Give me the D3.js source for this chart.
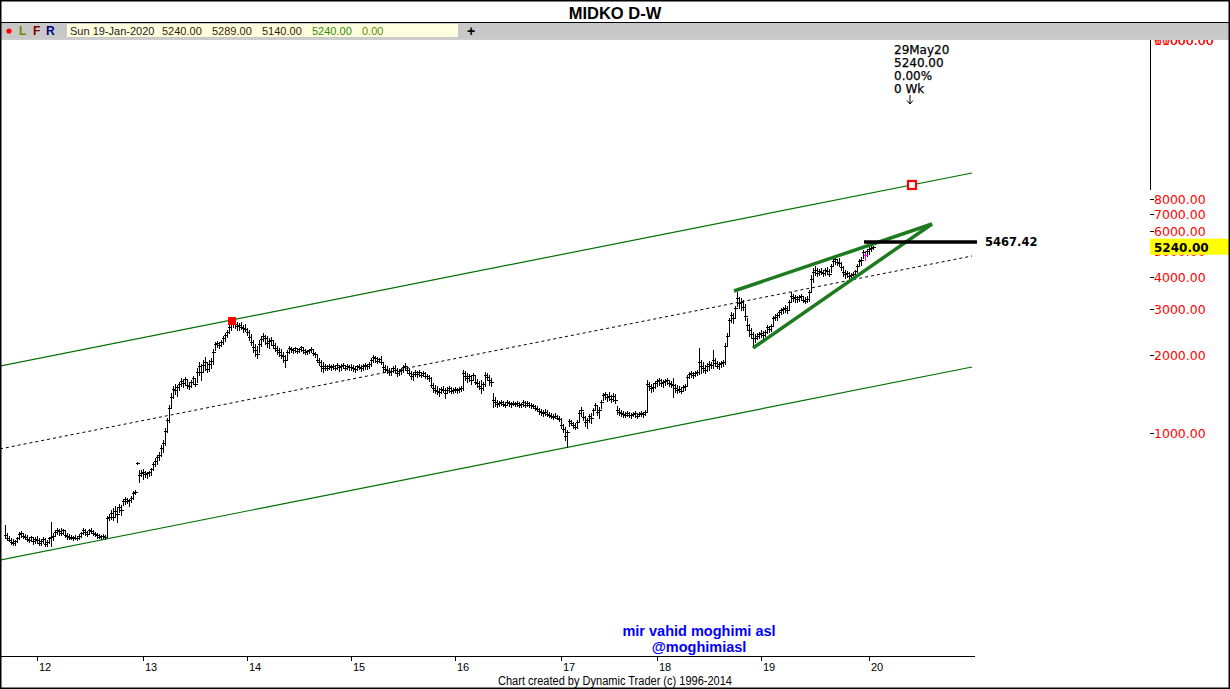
<!DOCTYPE html>
<html>
<head>
<meta charset="utf-8">
<script src="https://cdn.jsdelivr.net/npm/d3@7"></script>
<style>
  body { margin: 0; background: #fff; }
  svg { display: block; }
</style>
</head>
<body>
<svg id="chart" width="1230" height="689"></svg>
<script>
// weekly bars, one array per calendar year, each bar = [high, low, close]
const bars2011 = [[441,393,404],[411,386,393],[400,383,386],[393,373,379],[390,369,376],[386,369,383],[397,379,393],[415,390,408],[418,397,411],[411,393,400],[408,390,397],[404,383,390],[397,379,386],[400,383,397],[393,373,383],[397,376,390]];
const bars2012 = [[400,376,386],[393,369,376],[390,369,383],[397,376,390],[393,366,373],[386,366,379],[397,376,393],[453,366,397],[411,386,400],[422,400,415],
  [429,408,422],[425,404,418],[429,404,411],[425,408,422],[418,397,404],[411,390,400],[408,390,397],[404,390,393],[400,386,397],[404,390,393],
  [400,386,393],[408,390,400],[415,397,411],[429,408,422],[425,404,415],[418,400,408],[425,408,422],[429,411,418],[422,404,411],[415,400,408],
  [411,393,404],[408,393,397],[404,390,400],[408,393,400],[404,390,397],[478,397,469],[486,461,473],[504,465,491],[513,461,473],[522,478,500],
  [518,453,486],[532,495,518],[527,482,504],[556,527,546],[566,532,556],[561,537,546],[556,522,551],[571,541,561],[597,556,587],[602,581,592],
  [772,760,766],[720,646,690],[720,683,701]];
const bars2013 = [[727,664,707],[714,678,695],[707,671,701],[714,683,707],[732,689,727],[773,720,759],[800,746,779],[822,759,808],[844,786,822],[899,815,874],
  [940,844,915],[1045,899,1018],[1143,1009,1122],[1284,1103,1249],[1428,1249,1378],[1520,1365,1479],[1547,1415,1466],[1533,1390,1506],[1575,1466,1547],[1630,1520,1588],
  [1616,1506,1561],[1644,1533,1616],[1616,1492,1533],[1575,1479,1520],[1602,1506,1575],[1658,1547,1630],[1630,1520,1547],[1782,1575,1721],[1882,1675,1815],[1848,1602,1721],
  [1914,1721,1831],[1966,1751,1882],[1882,1721,1766],[1914,1736,1848],[1948,1782,1898],[2110,1848,2056],[2245,2092,2206],[2265,2148,2225],[2245,2128,2187],[2286,2167,2245],
  [2368,2206,2326],[2434,2265,2390],[2499,2347,2456],[2613,2434,2567],[2755,2499,2685],[2780,2567,2731],[2731,2544,2636],[2685,2499,2590],[2660,2499,2613],[2685,2522,2567],
  [2613,2456,2544],[2636,2478,2522]];
const bars2014 = [[2544,2390,2456],[2499,2286,2347],[2412,2187,2245],[2286,2056,2148],[2206,1983,2092],[2167,1948,2019],[2286,2056,2206],[2368,2167,2306],[2434,2265,2368],[2390,2206,2326],
  [2368,2148,2225],[2326,2128,2265],[2347,2187,2286],[2286,2128,2187],[2225,2074,2128],[2167,2019,2092],[2128,1983,2056],[2110,1948,2001],[2056,1882,1983],[2001,1798,1914],
  [2092,1914,2056],[2167,2037,2128],[2148,2056,2110],[2128,2037,2092],[2148,2056,2128],[2110,2037,2074],[2128,2056,2110],[2167,2074,2148],[2148,2037,2092],[2110,2019,2056],
  [2092,2019,2074],[2110,2037,2092],[2148,2056,2110],[2110,2001,2037],[2056,1966,2019],[2019,1882,1914],[1948,1831,1882],[1914,1736,1815],[1882,1721,1782],[1848,1751,1815],
  [1831,1751,1782],[1848,1766,1815],[1831,1751,1798],[1848,1766,1815],[1831,1751,1782],[1865,1766,1831],[1831,1736,1798],[1848,1751,1815],[1865,1782,1831],[1831,1751,1782],
  [1848,1766,1815],[1831,1751,1798]];
const bars2015 = [[1848,1751,1798],[1831,1736,1782],[1815,1721,1766],[1831,1751,1815],[1848,1766,1798],[1831,1736,1782],[1848,1751,1815],[1865,1766,1831],[1848,1766,1815],[1882,1782,1848],
  [1948,1815,1914],[2001,1882,1966],[1983,1882,1948],[1966,1865,1898],[1948,1882,1931],[1983,1848,1882],[1882,1721,1798],[1831,1721,1766],[1815,1705,1751],[1782,1675,1721],
  [1782,1675,1736],[1815,1721,1782],[1831,1705,1751],[1782,1660,1705],[1766,1675,1736],[1782,1690,1751],[1831,1721,1798],[1865,1751,1815],[1815,1705,1751],[1782,1675,1705],
  [1736,1616,1660],[1721,1602,1690],[1751,1660,1721],[1736,1644,1690],[1751,1660,1721],[1721,1644,1675],[1736,1660,1705],[1721,1630,1660],[1690,1616,1660],[1675,1588,1630],
  [1644,1506,1533],[1561,1441,1492],[1533,1428,1466],[1520,1415,1453],[1492,1390,1441],[1506,1428,1479],[1520,1441,1466],[1492,1365,1428],[1506,1428,1466],[1520,1441,1492],
  [1506,1428,1453],[1492,1428,1466]];
const bars2016 = [[1506,1441,1479],[1492,1428,1466],[1506,1441,1479],[1520,1453,1492],[1751,1466,1705],[1736,1602,1660],[1705,1575,1630],[1690,1588,1660],[1675,1547,1602],[1705,1602,1675],
  [1660,1547,1575],[1616,1506,1561],[1588,1479,1520],[1602,1428,1492],[1575,1466,1547],[1721,1520,1675],[1705,1602,1644],[1675,1533,1602],[1630,1520,1575],[1428,1260,1341],
  [1378,1272,1319],[1341,1260,1296],[1330,1272,1307],[1341,1284,1319],[1330,1272,1296],[1319,1260,1284],[1341,1284,1319],[1330,1272,1307],[1319,1260,1296],[1330,1284,1307],
  [1319,1272,1296],[1330,1272,1307],[1319,1260,1284],[1307,1260,1296],[1341,1272,1319],[1330,1260,1284],[1330,1272,1307],[1319,1260,1284],[1307,1249,1284],[1296,1249,1272],
  [1284,1227,1249],[1272,1217,1238],[1249,1185,1217],[1238,1174,1207],[1227,1164,1196],[1238,1174,1207],[1227,1164,1185],[1207,1153,1174],[1196,1143,1164],[1185,1133,1153],
  [1196,1143,1164],[1174,1133,1143],[1164,1113,1133]];
const bars2017 = [[1143,1045,1074],[1084,1009,1036],[1054,940,974],[1027,883,1009],[1133,1064,1113],[1122,1074,1093],[1103,1045,1074],[1093,1036,1054],[1122,1045,1103],[1227,1103,1196],
  [1260,1164,1227],[1207,1122,1153],[1164,1064,1103],[1143,1045,1122],[1185,1103,1164],[1196,1093,1143],[1249,1174,1227],[1307,1227,1284],[1284,1174,1207],[1260,1143,1227],
  [1341,1249,1319],[1428,1341,1403],[1441,1353,1415],[1415,1330,1378],[1441,1341,1390],[1403,1319,1353],[1428,1330,1390],[1415,1307,1341],[1272,1185,1227],[1249,1174,1207],
  [1227,1164,1196],[1217,1153,1185],[1207,1153,1174],[1217,1164,1196],[1207,1153,1174],[1196,1143,1174],[1207,1164,1185],[1217,1153,1196],[1196,1143,1164],[1207,1164,1185],
  [1217,1164,1196],[1207,1153,1185],[1227,1174,1207],[1602,1207,1547],[1575,1466,1520],[1547,1441,1492],[1561,1453,1506],[1588,1492,1561]];
const bars2018 = [[1616,1520,1588],[1630,1533,1602],[1616,1520,1561],[1602,1506,1575],[1616,1533,1588],[1630,1547,1602],[1602,1520,1561],[1588,1506,1547],[1630,1378,1533],[1547,1441,1492],
  [1533,1428,1466],[1520,1441,1479],[1506,1428,1453],[1533,1453,1506],[1547,1466,1520],[1675,1520,1644],[1721,1630,1690],[1736,1644,1705],[1721,1630,1675],[1736,1660,1705],
  [1751,1675,1721],[2128,1690,1882],[1914,1705,1815],[1882,1721,1782],[1831,1705,1751],[1865,1736,1815],[1898,1751,1848],[1882,1782,1831],[2092,1782,1914],[1948,1815,1865],
  [1898,1782,1815],[1882,1766,1848],[1898,1798,1865],[1914,1815,1882],[2225,1848,2167],[2434,2187,2368],[2780,2390,2731],[2931,2685,2857],[2906,2660,2780],[3093,2780,3037],
  [3502,3093,3321],[3350,3037,3178],[3321,2985,3207],[3263,2985,3065],[3149,2731,2831],[2780,2499,2613],[2636,2368,2499],[2544,2326,2412],[2456,2148,2326],[2412,2245,2326],
  [2434,2306,2368],[2456,2326,2412]];
const bars2019 = [[2499,2347,2434],[2478,2326,2390],[2499,2368,2456],[2613,2434,2567],[2590,2456,2522],[2636,2478,2590],[2831,2613,2780],[2881,2731,2806],[2906,2731,2857],[2985,2806,2931],
  [3037,2881,2985],[3065,2906,3011],[3121,2931,3037],[3093,2906,2985],[3263,2985,3207],[3502,3207,3380],[3441,3235,3321],[3409,3207,3350],[3380,3207,3292],[3409,3235,3350],
  [3441,3263,3380],[3380,3207,3263],[3350,3178,3235],[3380,3207,3292],[3566,3235,3502],[4068,3502,3927],[4330,3830,4179],[4407,4068,4259],[4330,4033,4143],[4294,4068,4219],
  [4330,4105,4179],[4259,4033,4143],[4330,4068,4259],[4368,4105,4219],[4294,4033,4105],[4489,4179,4407],[4742,4407,4614],[4787,4489,4698],[4698,4449,4572],[4742,4407,4531],
  [4572,4259,4368],[4407,4033,4179],[4259,3960,4105],[4219,3996,4143],[4179,3930,4033],[4143,3960,4068],[4179,3996,4105],[4259,4033,4219],[4489,4179,4407],[4698,4407,4614],
  [4787,4449,4656],[5089,4742,4999],[5043,4656,4867],[5133,4823,5043]];
const bars2020 = [[5225,4910,5133],[5272,5043,5179],[5289,5140,5240]];

const yearLabels = ['12', '13', '14', '15', '16', '17', '18', '19', '20'];
const yearBars = [bars2011, bars2012, bars2013, bars2014, bars2015, bars2016, bars2017, bars2018, bars2019, bars2020];
const priceTicks = [1000, 2000, 3000, 4000, 5000, 6000, 7000, 8000];

const lastClose = 5240;
const targetLevel = 5467.42;
const markedBar = 430; // highlighted bar (pink)

// trend lines: [bar index, price]
const upperChannel = [[-2.5, 1814], [483.5, 10090]];
const lowerChannel = [[-2.5, 323], [483.5, 1798]];
const midLine = [[-2.5, 868], [483.5, 4825]];
const wedgeTop = [[364.5, 3534], [463.5, 6412]];
const wedgeBottom = [[374, 2129], [463.5, 6412]];
const targetSpan = [429.5, 486];
const peakMark = [113.5, 2707];
const projMark = [453.5, 9069];
const projLines = ['29May20', '5240.00', '0.00%', '0 Wk'];
const projBar = 452.5;
const quote = ['Sun 19-Jan-2020', '5240.00', '5289.00', '5140.00', '5240.00', '0.00'];

const svg = d3.select('#chart');
const W = 1230, H = 689;

const x = d3.scaleLinear().domain([0, 434]).range([5, 873]);
const y = d3.scaleLog().domain([1000, 10000]).range([433, 174]);

// flatten bars with running index
const bars = [];
const yearStart = [];
yearBars.forEach(arr => {
    yearStart.push(bars.length);
    arr.forEach(b => bars.push({ i: bars.length, h: b[0], l: b[1], c: b[2] }));
});

// title and header strip
svg.append('text')
    .attr('x', 615).attr('y', 19)
    .attr('text-anchor', 'middle')
    .style('font', 'bold 16.5px "Liberation Sans", Arial, sans-serif')
    .text('MIDKO D-W');

svg.append('rect').attr('x', 0).attr('y', 22).attr('width', W).attr('height', 16).attr('fill', '#c8c8c8');
svg.append('line').attr('x1', 0).attr('x2', W).attr('y1', 22.5).attr('y2', 22.5).attr('stroke', '#000');
svg.append('line').attr('x1', 0).attr('x2', W).attr('y1', 39).attr('y2', 39).attr('stroke', '#9a9a9a');

svg.append('circle').attr('cx', 9).attr('cy', 31).attr('r', 2.6).attr('fill', '#ff0000');
const hdrFont = 'bold 12px "Liberation Sans", Arial, sans-serif';
[['L', 19, '#808000'], ['F', 33, '#800000'], ['R', 46, '#000080']].forEach(d => {
    svg.append('text').attr('x', d[1]).attr('y', 35).attr('fill', d[2]).style('font', hdrFont).text(d[0]);
});
svg.append('rect').attr('x', 67).attr('y', 24).attr('width', 391).attr('height', 13).attr('fill', '#ffffe0');
const quoteX = [70, 162, 212, 262, 312, 362];
const quoteCol = ['#1a1a1a', '#3a1a00', '#3a1a00', '#3a1a00', '#2e8b00', '#5a8a00'];
quote.forEach((t, k) => {
    svg.append('text').attr('x', quoteX[k]).attr('y', 35)
        .attr('fill', quoteCol[k])
        .style('font', '11px "Liberation Sans", Arial, sans-serif')
        .text(t);
});
svg.append('text').attr('x', 467).attr('y', 36).style('font', 'bold 14px "Liberation Sans", Arial, sans-serif').text('+');

// plot area clip
svg.append('defs').append('clipPath').attr('id', 'plot')
    .append('rect').attr('x', 1).attr('y', 40).attr('width', 1148).attr('height', 616);
const plot = svg.append('g').attr('clip-path', 'url(#plot)');

const seg = d3.line().x(d => x(d[0])).y(d => y(d[1]));

// channel lines
plot.append('path').attr('d', seg(upperChannel)).attr('stroke', '#007000').attr('stroke-width', 1.2).attr('fill', 'none');
plot.append('path').attr('d', seg(lowerChannel)).attr('stroke', '#007000').attr('stroke-width', 1.2).attr('fill', 'none');
plot.append('path').attr('d', seg(midLine)).attr('stroke', '#000').attr('stroke-width', 1)
    .attr('stroke-dasharray', '3,3').attr('fill', 'none');

// OHLC bars (high-low stem + close tick), 1px pixel-snapped
const barColor = d => d.i === markedBar ? '#ff00ff' : '#000';
const bx = d => Math.round(x(d.i)) + 0.5;
const barG = plot.append('g').attr('shape-rendering', 'crispEdges');
barG.selectAll('line.stem')
    .data(bars)
    .join('line')
    .attr('class', 'stem')
    .attr('x1', bx)
    .attr('x2', bx)
    .attr('y1', d => Math.round(y(d.h)))
    .attr('y2', d => Math.round(y(d.l)) + 1)
    .attr('stroke', barColor)
    .attr('stroke-width', 1);
barG.selectAll('line.close')
    .data(bars)
    .join('line')
    .attr('class', 'close')
    .attr('x1', d => bx(d) - 1.5)
    .attr('x2', d => bx(d) + 2)
    .attr('y1', d => Math.round(y(d.c)) + 0.5)
    .attr('y2', d => Math.round(y(d.c)) + 0.5)
    .attr('stroke', barColor)
    .attr('stroke-width', 1);

// wedge
plot.append('path').attr('d', seg(wedgeTop)).attr('stroke', '#1e7a1e').attr('stroke-width', 3.5).attr('fill', 'none');
plot.append('path').attr('d', seg(wedgeBottom)).attr('stroke', '#1e7a1e').attr('stroke-width', 3.5).attr('fill', 'none');

// target level
plot.append('line')
    .attr('x1', x(targetSpan[0])).attr('x2', x(targetSpan[1]))
    .attr('y1', y(targetLevel)).attr('y2', y(targetLevel))
    .attr('stroke', '#000').attr('stroke-width', 3.5);
svg.append('text')
    .attr('x', 985).attr('y', y(targetLevel) + 4.5)
    .style('font', 'bold 11.5px "DejaVu Sans", Verdana, sans-serif')
    .text(d3.format('.2f')(targetLevel));

// markers
plot.append('rect')
    .attr('x', x(peakMark[0]) - 4).attr('y', y(peakMark[1]) - 4)
    .attr('width', 8).attr('height', 8).attr('fill', '#ff0000');
plot.append('rect')
    .attr('x', x(projMark[0]) - 4).attr('y', y(projMark[1]) - 4)
    .attr('width', 8).attr('height', 8)
    .attr('fill', '#fff').attr('stroke', '#ff0000').attr('stroke-width', 2.2);

// projection note
const px = x(projBar);
projLines.forEach((t, k) => {
    svg.append('text')
        .attr('x', px - 16).attr('y', 54 + k * 13)
        .style('font', '12px "DejaVu Sans", Verdana, sans-serif')
        .style('stroke', '#000').style('stroke-width', 0.25)
        .text(t);
});
svg.append('path')
    .attr('d', `M${px},95V104M${px - 3},100.5L${px},104L${px + 3},100.5`)
    .attr('stroke', '#000').attr('fill', 'none').attr('stroke-width', 1);

// watermark
svg.append('text').attr('x', 699).attr('y', 636).attr('text-anchor', 'middle').attr('fill', '#0000ff')
    .style('font', 'bold 14.5px "Liberation Sans", Arial, sans-serif').text('mir vahid moghimi asl');
svg.append('text').attr('x', 699).attr('y', 652).attr('text-anchor', 'middle').attr('fill', '#0000ff')
    .style('font', 'bold 14.5px "Liberation Sans", Arial, sans-serif').text('@moghimiasl');

// price axis
svg.append('line').attr('x1', 1150.5).attr('x2', 1150.5).attr('y1', 40).attr('y2', 190).attr('stroke', '#000');
svg.append('defs').append('clipPath').attr('id', 'axisclip')
    .append('rect').attr('x', 1150).attr('y', 40).attr('width', 80).attr('height', 620);
const axisG = svg.append('g').attr('clip-path', 'url(#axisclip)');
['61000.00', '10000.00'].forEach(t => {
    axisG.append('text').attr('x', 1154).attr('y', 45).attr('fill', '#ff0000')
        .style('font', '12.5px "DejaVu Sans", Verdana, sans-serif').text(t);
});
priceTicks.forEach(p => {
    axisG.append('line').attr('x1', 1150).attr('x2', 1154).attr('y1', Math.round(y(p)) + 0.5).attr('y2', Math.round(y(p)) + 0.5).attr('stroke', '#000');
    axisG.append('text').attr('x', 1154).attr('y', y(p) + 4.5).attr('fill', '#ff0000')
        .style('font', '12.5px "DejaVu Sans", Verdana, sans-serif')
        .text(d3.format('.2f')(p));
});
axisG.append('rect').attr('x', 1150).attr('y', y(lastClose) - 8).attr('width', 80).attr('height', 16).attr('fill', '#ffff00');
axisG.append('text').attr('x', 1154).attr('y', y(lastClose) + 5).attr('fill', '#000')
    .style('font', 'bold 12px "DejaVu Sans", Verdana, sans-serif')
    .text(d3.format('.2f')(lastClose));

// time axis
svg.append('line').attr('x1', 0).attr('x2', 975).attr('y1', 656.5).attr('y2', 656.5).attr('stroke', '#000');
yearLabels.forEach((lab, k) => {
    const xi = Math.round(x(yearStart[k + 1])) + 0.5;
    svg.append('line').attr('x1', xi).attr('x2', xi).attr('y1', 656).attr('y2', 661).attr('stroke', '#000');
    svg.append('text').attr('x', xi + 1.5).attr('y', 671)
        .style('font', '11px "Liberation Sans Narrow", "Liberation Sans", Arial, sans-serif')
        .text(lab);
});

svg.append('text').attr('x', 615).attr('y', 685).attr('text-anchor', 'middle')
    .attr('textLength', 234).attr('lengthAdjust', 'spacingAndGlyphs')
    .style('font', '12px "Liberation Sans Narrow", "Liberation Sans", Arial, sans-serif')
    .text('Chart created by Dynamic Trader  (c) 1996-2014');

// outer frame
svg.append('rect').attr('x', 0.75).attr('y', 0.75).attr('width', W - 1.5).attr('height', H - 1.5)
    .attr('fill', 'none').attr('stroke', '#000').attr('stroke-width', 1.5);
</script>
</body>
</html>
